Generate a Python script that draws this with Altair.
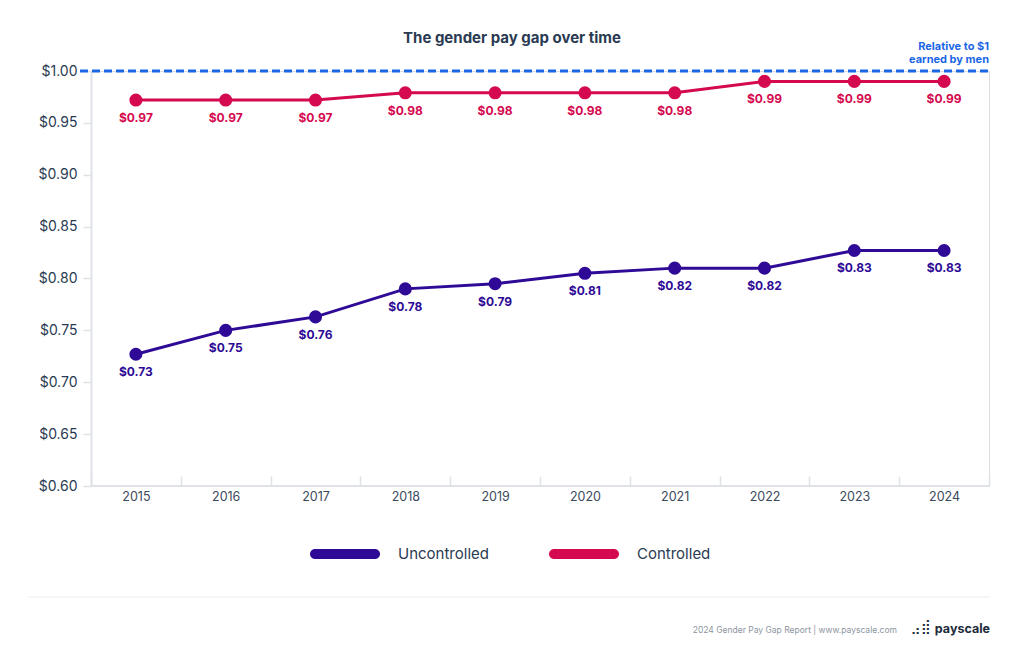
import altair as alt
import pandas as pd

years = ["2015", "2016", "2017", "2018", "2019", "2020", "2021", "2022", "2023", "2024"]
uncontrolled = [0.727, 0.750, 0.763, 0.790, 0.795, 0.805, 0.810, 0.810, 0.827, 0.827]
uncontrolled_labels = ["$0.73", "$0.75", "$0.76", "$0.78", "$0.79", "$0.81", "$0.82", "$0.82", "$0.83", "$0.83"]
controlled = [0.972, 0.972, 0.972, 0.979, 0.979, 0.979, 0.979, 0.990, 0.990, 0.990]
controlled_labels = ["$0.97", "$0.97", "$0.97", "$0.98", "$0.98", "$0.98", "$0.98", "$0.99", "$0.99", "$0.99"]
series = ["Uncontrolled", "Controlled"]
colors = ["#2e0a96", "#d5094f"]
y_ticks = [0.60, 0.65, 0.70, 0.75, 0.80, 0.85, 0.90, 0.95, 1.00]

rows = []
for i, y in enumerate(years):
    rows.append({"year": y, "series": "Uncontrolled", "value": uncontrolled[i], "label": uncontrolled_labels[i]})
    rows.append({"year": y, "series": "Controlled", "value": controlled[i], "label": controlled_labels[i]})
df = pd.DataFrame(rows)

W, H = 898, 415
FONT = "Inter"
DARK = "#2a3b52"

x_enc = alt.X("year:N", sort=years, scale=alt.Scale(paddingInner=0, paddingOuter=0),
              axis=alt.Axis(title=None, offset=-10, domain=False, tickBand="extent", tickSize=10,
                            tickColor="#dfe2e7", tickWidth=1.5, labelPadding=4, labelFontSize=12.5,
                            labelColor="#3b4a5c", labelFont=FONT, labelAngle=0, grid=False))
y_scale = alt.Scale(domain=[0.6, 1.0], nice=False, zero=False)
y_enc = alt.Y("value:Q", scale=y_scale,
              axis=alt.Axis(title=None, values=y_ticks, format="$.2f", domainColor="#dfe2e7",
                            domainWidth=2, tickColor="#dfe2e7", tickSize=8, tickWidth=1.5,
                            labelPadding=6, labelFontSize=14, labelColor=DARK, labelFont=FONT, grid=False))
color_scale = alt.Scale(domain=series, range=colors)

pill = "M-0.857,-0.143 L0.857,-0.143 A0.143,0.143 0 0 1 0.857,0.143 L-0.857,0.143 A0.143,0.143 0 0 1 -0.857,-0.143 Z"
legend = alt.Legend(title=None, orient="none", direction="horizontal",
                    legendX=219, legendY=448, symbolType=pill, symbolSize=4900,
                    symbolStrokeWidth=0, symbolOpacity=1, labelOffset=18, columnPadding=60,
                    labelFontSize=15, labelColor=DARK, labelFont=FONT, padding=0)
color_enc = alt.Color("series:N", scale=color_scale, legend=legend)

base = alt.Chart(df)

lines = base.mark_line(strokeWidth=3).encode(
    x=x_enc, y=y_enc, color=color_enc, detail="series:N",
)

points = base.mark_point(filled=True, size=170, opacity=1, shape="circle").encode(
    x=alt.X("year:N", sort=years),
    y=alt.Y("value:Q", scale=y_scale),
    color=color_enc,
)

labels = base.mark_text(fontSize=12, fontWeight="bold", font=FONT, dy=18, baseline="middle").encode(
    x=alt.X("year:N", sort=years),
    y=alt.Y("value:Q", scale=y_scale),
    text="label:N",
    color=color_enc,
)

one = pd.DataFrame({"v": [1.0], "b": [0.6]})

ref = alt.Chart(one).mark_rule(color="#1a66e6", strokeWidth=3, strokeDash=[8, 4]).encode(
    y=alt.Y("v:Q", scale=y_scale), x=alt.value(-11), x2=alt.value(W)
)
bottom = alt.Chart(one).mark_rule(color="#dfe2e7", strokeWidth=2).encode(
    y=alt.Y("b:Q", scale=y_scale), x=alt.value(0), x2=alt.value(W)
)

annot = alt.Chart(one).mark_text(align="right", baseline="middle", fontSize=11, fontWeight="bold",
                                 font=FONT, color="#1a66e6", lineHeight=13).encode(
    x=alt.value(W), y=alt.value(-24), text=alt.value(["Relative to $1", "earned by men"])
)

title = alt.Chart(one).mark_text(align="center", baseline="middle", fontSize=15, fontWeight="bold",
                                 font=FONT, color=DARK).encode(
    x=alt.value(421), y=alt.value(-33), text=alt.value("The gender pay gap over time")
)

footer_line = alt.Chart(one).mark_rule(color="#eceef1", strokeWidth=1).encode(
    x=alt.value(-63), x2=alt.value(899), y=alt.value(526)
)
footer_text = alt.Chart(one).mark_text(align="right", baseline="middle", fontSize=8.5, font=FONT,
                                       color="#8d95a1").encode(
    x=alt.value(806), y=alt.value(559), text=alt.value("2024 Gender Pay Gap Report  |  www.payscale.com")
)
logo = alt.Chart(one).mark_text(align="right", baseline="middle", fontSize=12.5, fontWeight="bold",
                                font=FONT, color="#1d2b3a").encode(
    x=alt.value(899), y=alt.value(558), text=alt.value("payscale")
)
logo_icon = alt.Chart(one).mark_text(align="right", baseline="middle", fontSize=14, font="DejaVu Sans",
                                     color="#1d2b3a").encode(
    x=alt.value(840), y=alt.value(556), text=alt.value("⣠⣾")
)

chart = alt.layer(bottom, ref, lines, points, labels, annot, title, footer_line, footer_text, logo, logo_icon).properties(
    width=W, height=H,
    autosize=alt.AutoSizeParams(type="none"),
    padding={"left": 83, "top": 63, "right": 27, "bottom": 150},
).configure_view(stroke=None).configure(background="white")

chart.save("out.html", embed_options={"renderer": "svg", "actions": False})
